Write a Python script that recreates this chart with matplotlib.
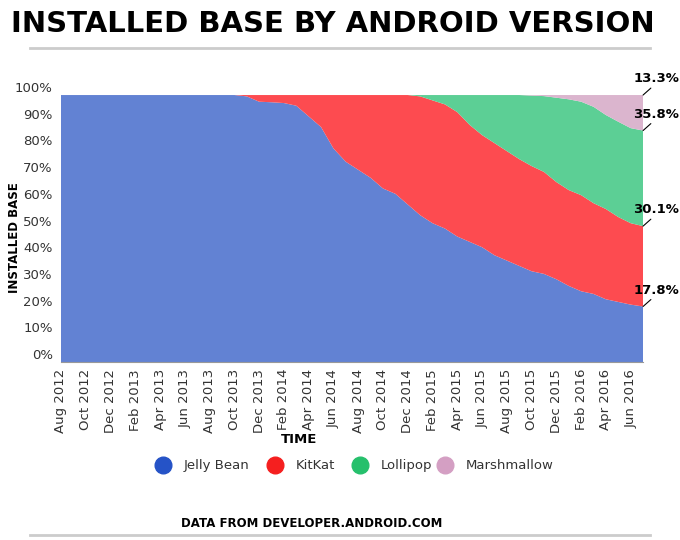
import matplotlib
matplotlib.use("Agg")
import matplotlib.pyplot as plt
import numpy as np

months = ["Aug 2012","Oct 2012","Dec 2012","Feb 2013","Apr 2013","Jun 2013","Aug 2013","Oct 2013",
          "Dec 2013","Feb 2014","Apr 2014","Jun 2014","Aug 2014","Oct 2014","Dec 2014","Feb 2015",
          "Apr 2015","Jun 2015","Aug 2015","Oct 2015","Dec 2015","Feb 2016","Apr 2016","Jun 2016"]
series_names = ["Jelly Bean", "KitKat", "Lollipop", "Marshmallow"]
jelly_bean = [100]*15 + [99.5,97.5,97.3,97,96,92,88,80,75,72,69,65,63,59,55,52,50,47,45,43,40,38,36,34,33,31,
                         28.5,26.5,25.5,23.5,22.5,21.5,20.8]
kitkat = [0]*15 + [0.5,2.5,2.7,3,4,8,12,20,25,28,31,35,37,41,44.5,46,46.5,46.6,43.8,42,42,41,40,39.4,38.2,36.4,
                   35.9,36,34,33.8,31.8,30.5,30.1]
lollipop = [0]*29 + [0.5,2,3.5,6.4,11.2,15,18,21,24,26.4,28.4,31.6,34,35,36.1,35.2,35.7,35.6,35.8]
marshmallow = [0]*38 + [0.2,0.4,1,1.6,2.5,4.4,7.5,10,12.4,13.3]
end_labels = ["17.8%", "30.1%", "35.8%", "13.3%"]

fill_colors = ["#6282d3", "#fd4b50", "#5ccf95", "#dbb5ce"]
dot_colors = ["#2553c7", "#f51f1f", "#26c06c", "#d49fc3"]

fig = plt.figure(figsize=(6.8, 5.4), dpi=100)
ax = fig.add_axes([0.0897, 0.3296, 0.856, 0.4944])
x = np.arange(len(jelly_bean))
data = [jelly_bean, kitkat, lollipop, marshmallow]
ax.stackplot(x, *data, colors=fill_colors, linewidth=0)
ax.set_xlim(0, len(x) - 1)
ax.set_ylim(0, 100)
for s in ["top", "right", "left"]:
    ax.spines[s].set_visible(False)
ax.spines["bottom"].set_color("#999999")
ax.set_yticks(np.arange(0, 101, 10))
ax.set_yticklabels([f"{v}%" for v in range(0, 101, 10)])
ax.tick_params(axis="y", length=0, labelsize=9.5, labelcolor="#333333", pad=6)
for lbl in ax.get_yticklabels():
    lbl.set_verticalalignment("bottom")
ax.set_xticks(np.arange(0, len(x), 2))
ax.set_xticklabels(months, rotation=90, fontsize=9.5, color="#333333")
ax.tick_params(axis="x", length=0, pad=5)

cond = dict(family="DejaVu Sans", fontweight="bold")
fig.text(0.022, 0.56, "INSTALLED BASE", rotation=90, ha="center", va="center", fontsize=8.5, **cond)
fig.text(0.44, 0.187, "TIME", ha="center", va="center", fontsize=9.5, **cond)
fig.text(0.49, 0.955, "INSTALLED BASE BY ANDROID VERSION", ha="center", va="center", fontsize=21, **cond)
fig.add_artist(plt.Line2D([0.044, 0.956], [0.912, 0.912], color="#cccccc", lw=2))
fig.add_artist(plt.Line2D([0.044, 0.956], [0.01, 0.01], color="#cccccc", lw=2))
fig.text(0.458, 0.03, "DATA FROM DEVELOPER.ANDROID.COM", ha="center", va="center", fontsize=8.5, **cond)

# end labels with leader lines
tops = np.cumsum([d[-1] for d in data])
for b, lab in zip(tops, end_labels):
    ax.annotate(lab, xy=(x[-1], b), xytext=(26, 7), textcoords="offset points",
                ha="right", va="bottom", fontsize=9.5, annotation_clip=False,
                arrowprops=dict(arrowstyle="-", color="black", lw=0.8, shrinkA=0, shrinkB=0,
                                relpos=(0.45, 0)), **cond)

# legend
lx = [0.24, 0.405, 0.53, 0.655]
for xx, name, c in zip(lx, series_names, dot_colors):
    fig.add_artist(plt.Line2D([xx], [0.138], marker="o", markersize=12, color=c, transform=fig.transFigure))
    fig.text(xx + 0.03, 0.138, name, va="center", ha="left", fontsize=9.5, color="#333333")

fig.savefig("out.png", dpi=100)
